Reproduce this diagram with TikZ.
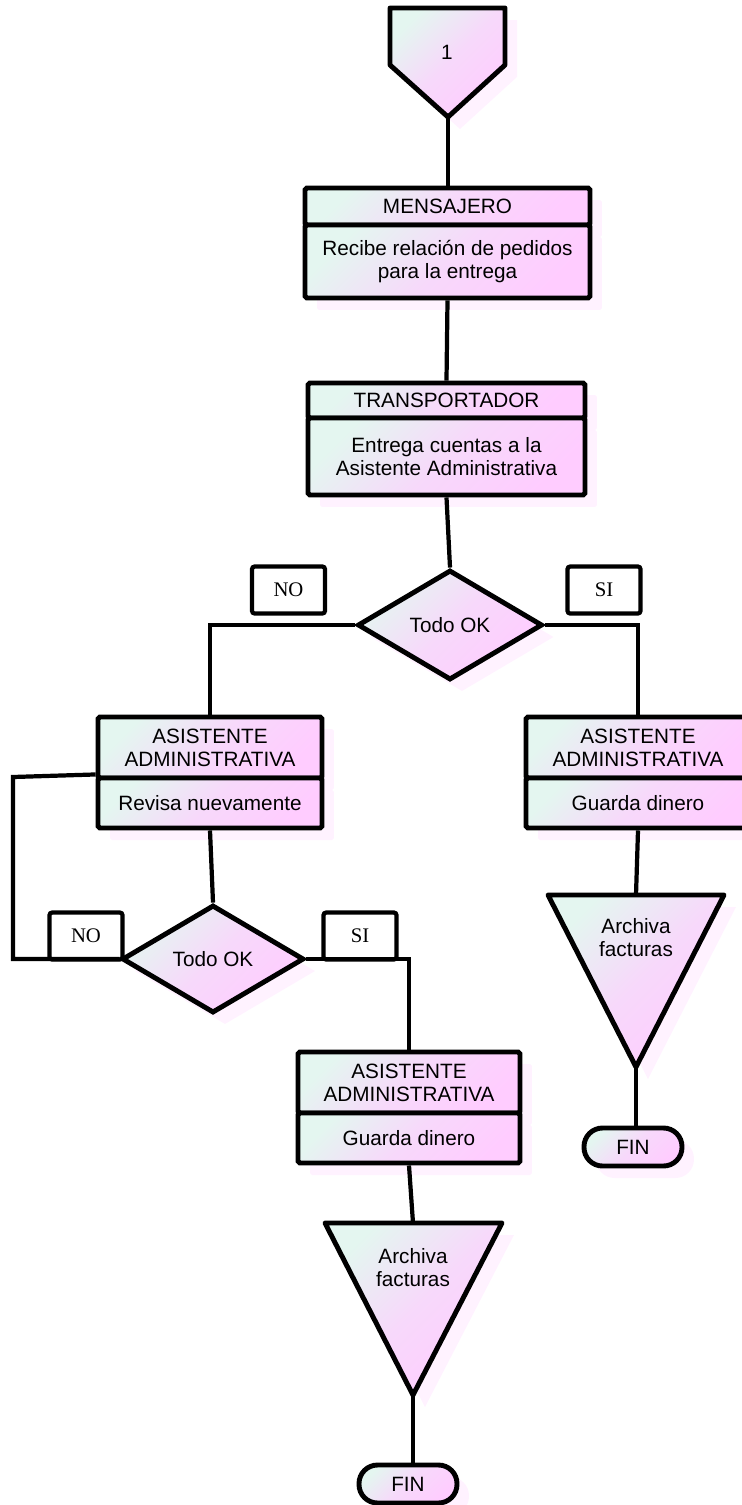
\documentclass[tikz,border=0pt]{standalone}
\usepackage{fontspec}
\setmainfont{Liberation Sans}
\newfontfamily\timesfont{Liberation Serif}
\usetikzlibrary{shapes.geometric,shadows}
\definecolor{mint}{RGB}{228,246,240}
\definecolor{rosa}{RGB}{255,204,255}

\begin{document}
\begin{tikzpicture}[x=0.02cm,y=-0.02cm,
  fondo/.style={top color=mint,bottom color=rosa,middle color=rosa!70!mint,shading angle=45,
    drop shadow={shadow xshift=0.24cm,shadow yshift=-0.24cm,fill=rosa,opacity=0.25}},
  caja/.style={draw,fondo,line width=2.8pt,rounded corners=1pt,inner sep=0pt,align=center,
    font=\fontsize{11.8}{13.2}\selectfont},
  cond/.style={diamond,draw,fondo,line width=2.8pt,inner sep=0pt,
    font=\fontsize{11.8}{13.2}\selectfont},
  tag/.style={draw,fill=white,line width=2.4pt,rounded corners=1.5pt,
    minimum width=1.46cm,minimum height=0.94cm,font=\timesfont\fontsize{11.8}{13.2}\selectfont},
  fin/.style={draw,fondo,line width=2.8pt,rounded corners=0.37cm,
    minimum width=1.96cm,minimum height=0.76cm,font=\fontsize{11.8}{13.2}\selectfont},
  txt/.style={align=center,font=\fontsize{11.8}{13.2}\selectfont},
  conn/.style={line width=2.4pt}]
\useasboundingbox (0,0) rectangle (742,1505);

% conector de pagina
\draw[fondo,line width=2.8pt,line join=round] (390,8) -- (505,8) -- (505,65) -- (448,117) coordinate (c1tip) -- (390,65) -- cycle;
\node[txt] at (447,52) (c1) {1};

\node[caja,minimum width=5.7cm,minimum height=0.74cm] at (447.5,206.5) (mensh) {MENSAJERO};
\node[caja,minimum width=5.7cm,minimum height=1.46cm] at (447.5,261.5) (mensb) {Recibe relación de pedidos\\para la entrega};

\node[caja,minimum width=5.54cm,minimum height=0.7cm] at (446.5,400.5) (transh) {TRANSPORTADOR};
\node[caja,minimum width=5.54cm,minimum height=1.54cm] at (446.5,456.5) (transb) {Entrega cuentas a la\\Asistente Administrativa};

\node[cond,minimum width=3.7cm,minimum height=2.2cm] at (450,625) (ok1) {Todo OK};
\node[tag] at (288.5,590) (no1) {NO};
\node[tag] at (604,590) (si1) {SI};

\node[caja,minimum width=4.48cm,minimum height=1.22cm] at (210,747.5) (adm1h) {ASISTENTE\\ADMINISTRATIVA};
\node[caja,minimum width=4.48cm,minimum height=1cm] at (210,803) (adm1b) {Revisa nuevamente};

\node[caja,minimum width=4.48cm,minimum height=1.22cm] at (638,747.5) (adm2h) {ASISTENTE\\ADMINISTRATIVA};
\node[caja,minimum width=4.48cm,minimum height=1cm] at (638,803) (adm2b) {Guarda dinero};

\node[cond,minimum width=3.64cm,minimum height=2.16cm] at (213,959) (ok2) {Todo OK};
\node[tag] at (86,936) (no2) {NO};
\node[tag] at (360,936) (si2) {SI};

\node[caja,minimum width=4.44cm,minimum height=1.22cm] at (409,1082.5) (adm3h) {ASISTENTE\\ADMINISTRATIVA};
\node[caja,minimum width=4.44cm,minimum height=1cm] at (409,1138) (adm3b) {Guarda dinero};

% archivo
\draw[fondo,line width=2.8pt,line join=round] (548,895) -- (724,895) -- (636,1067) coordinate (arch1tip) -- cycle;
\coordinate (arch1top) at (636,895);
\node[txt] at (636,937.5) (arch1) {Archiva\\facturas};
\node[fin] at (633,1147) (fin1) {FIN};

\draw[fondo,line width=2.8pt,line join=round] (325,1223) -- (502,1223) -- (413,1395) coordinate (arch2tip) -- cycle;
\coordinate (arch2top) at (413,1223);
\node[txt] at (413,1267.5) (arch2) {Archiva\\facturas};
\node[fin] at (408,1484) (fin2) {FIN};

\coordinate (vuelta1) at (13,777);
\coordinate (vuelta2) at (13,959);

\draw[conn] (c1tip) -- (c1tip |- mensh.north);
\draw[conn] (mensb.south) -- (transh.north);
\draw[conn] (transb.south) -- (ok1.north);
\draw[conn] (ok1.west) -| (adm1h.north);
\draw[conn] (ok1.east) -| (adm2h.north);
\draw[conn] (adm1b.south) -- (ok2.north);
\draw[conn] ([yshift=0.12cm]adm1h.south west) -- (vuelta1) -- (vuelta2) -- (ok2.west);
\draw[conn] (ok2.east) -| (adm3h.north);
\draw[conn] (adm2b.south) -- (arch1top);
\draw[conn] (arch1tip) -- (arch1tip |- fin1.north);
\draw[conn] (adm3b.south) -- (arch2top);
\draw[conn] (arch2tip) -- (arch2tip |- fin2.north);
\end{tikzpicture}
\end{document}
